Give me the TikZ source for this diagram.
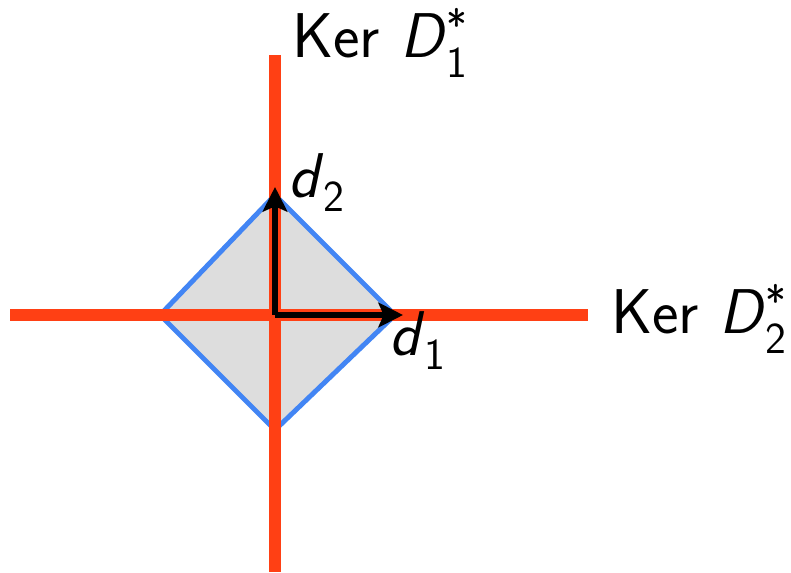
\documentclass[tikz,border=0pt]{standalone}
\usepackage{amsmath}
\usetikzlibrary{arrows.meta}
\definecolor{KerRed}{RGB}{255,64,20}
\definecolor{BallBlue}{RGB}{66,133,244}
\definecolor{BallGray}{RGB}{221,221,221}
\tikzset{
  kerline/.style={draw=KerRed,line width=6.5pt},
  ball/.style={draw=BallBlue,fill=BallGray,line width=2.8pt,line join=miter},
  darr/.style={-{Stealth[length=14pt,width=14pt,inset=3pt]},black,line width=3.6pt},
  lbl/.style={font=\fontsize{36}{42}\selectfont\sffamily,inner sep=0pt},
}
\newcommand{\kerD}[1]{Ker \textit{D}$^{\textsf{*}}_{\textsf{#1}}$}
\newcommand{\dvec}[1]{\textit{d}$_{\textsf{#1}}$}
\begin{document}
\begin{tikzpicture}[x=0.02cm,y=-0.02cm]
    \useasboundingbox (0,0) rectangle (791,572);
    %% Points
    \coordinate (o) at (275,315);
    \coordinate (top) at (275,195);
    \coordinate (right) at (395,315);
    \coordinate (bot) at (275,430);
    \coordinate (left) at (160,315);
    \coordinate (hw) at (10,315);
    \coordinate (he) at (588,315);
    \coordinate (vn) at (275,55);
    \coordinate (vs) at (275,572);
    \coordinate (tipd2) at (275,187);
    \coordinate (tipd1) at (403,315);
    %% Ball
    \draw[ball] (top)--(right)--(bot)--(left)--cycle;
    %% Kernels
    \draw[kerline] (hw)--(he);
    \draw[kerline] (vn)--(vs);
    %% Directions
    \draw[darr] (o)--(tipd2);
    \draw[darr] (o)--(tipd1);
    %% Labels
    \node[lbl,anchor=base west] (kerone) at (292,57) {\kerD{1}};
    \node[lbl,anchor=base west] (kertwo) at (611,333) {\kerD{2}};
    \node[lbl,anchor=base west] (dtwo) at (288,197) {\dvec{2}};
    \node[lbl,anchor=base west] (done) at (389,355) {\dvec{1}};
\end{tikzpicture}
\end{document}
